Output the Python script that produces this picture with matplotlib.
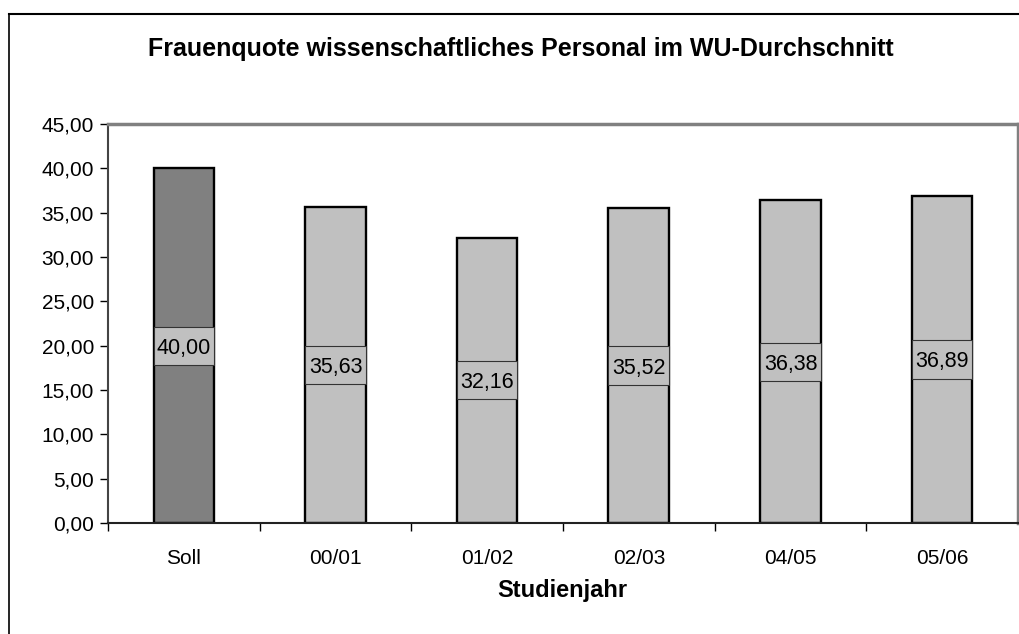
"""
plot.py - Frauenquote wissenschaftliches Personal im WU-Durchschnitt.

Bar chart in the old Excel look: grey bars, boxed value labels in the
middle of each bar, comma decimals on the y axis.
"""

import matplotlib
matplotlib.use("Agg")
import matplotlib.pyplot as plt
from matplotlib.lines import Line2D
from matplotlib.patches import Rectangle
from matplotlib.ticker import FuncFormatter, FixedLocator, NullFormatter


# ---------------------------------------------------------------------------
# Data
# ---------------------------------------------------------------------------
categories = ["Soll", "00/01", "01/02", "02/03", "04/05", "05/06"]
values = [40.00, 35.63, 32.16, 35.52, 36.38, 36.89]
bar_colors = ["#808080", "#c0c0c0", "#c0c0c0", "#c0c0c0", "#c0c0c0", "#c0c0c0"]
y_ticks = [0, 5, 10, 15, 20, 25, 30, 35, 40, 45]

TITLE = "Frauenquote wissenschaftliches Personal im WU-Durchschnitt"
XLABEL = "Studienjahr"

FONT = ["Liberation Sans", "DejaVu Sans"]
plt.rcParams["font.family"] = FONT

BAR_W = 0.4
LABEL_BOX_H = 4.3   # height of the value-label box, in data units


def comma(x, _pos=None):
    return f"{x:.2f}".replace(".", ",")


# ---------------------------------------------------------------------------
# Figure
# ---------------------------------------------------------------------------
W, H = 1020, 634
fig = plt.figure(figsize=(W / 100, H / 100), dpi=100)
fig.patch.set_facecolor("white")

# outer chart frame (only top and left edges fall inside the picture)
fy = 1 - 14 / H
fig.add_artist(Line2D([9.5 / W, 9.5 / W], [0, fy], transform=fig.transFigure,
                      color="black", lw=1.2))
fig.add_artist(Line2D([9.5 / W, 1], [fy, fy], transform=fig.transFigure,
                      color="black", lw=1.5))

left, right, top, bottom = 108, 1018, 124, 523
ax = fig.add_axes([left / W, 1 - bottom / H, (right - left) / W, (bottom - top) / H])

x = list(range(len(categories)))
ax.bar(x, values, width=BAR_W, color=bar_colors, edgecolor="black", linewidth=1.7, zorder=2)

# value labels in grey boxes spanning the bar at half height
for xi, v in zip(x, values):
    ax.add_patch(Rectangle((xi - BAR_W / 2, v / 2 - LABEL_BOX_H / 2), BAR_W, LABEL_BOX_H,
                           facecolor="#c0c0c0", edgecolor="#333333", linewidth=0.8,
                           zorder=3))
    ax.text(xi, v / 2, comma(v), ha="center", va="center_baseline", fontsize=15.5,
            zorder=4)

ax.set_xlim(-0.5, len(categories) - 0.5)
ax.set_ylim(0, 45)

ax.yaxis.set_major_locator(FixedLocator(y_ticks))
ax.yaxis.set_major_formatter(FuncFormatter(comma))
ax.tick_params(axis="y", direction="out", length=6, width=1, labelsize=15, pad=4,
               colors="black")

# x ticks sit between the categories, labels centred under each bar
ax.set_xticks([i + 0.5 for i in x[:-1]] + [-0.5])
ax.xaxis.set_major_formatter(NullFormatter())
ax.set_xticks(x, minor=True)
ax.set_xticklabels(categories, minor=True)
ax.tick_params(axis="x", which="major", direction="out", length=6, width=1)
ax.tick_params(axis="x", which="minor", length=0, labelsize=15, pad=19)

for side in ("top", "right"):
    ax.spines[side].set_color("#808080")
    ax.spines[side].set_linewidth(2.5)
ax.spines["left"].set_color("#444444")
ax.spines["left"].set_linewidth(1.5)
ax.spines["bottom"].set_color("#222222")
ax.spines["bottom"].set_linewidth(1.5)

fig.text(521 / W, 1 - 49 / H, TITLE, ha="center", va="center", fontsize=18,
         fontweight="bold")
fig.text(562 / W, 1 - 590 / H, XLABEL, ha="center", va="center", fontsize=17,
         fontweight="bold")

fig.savefig("out.png", dpi=100)
